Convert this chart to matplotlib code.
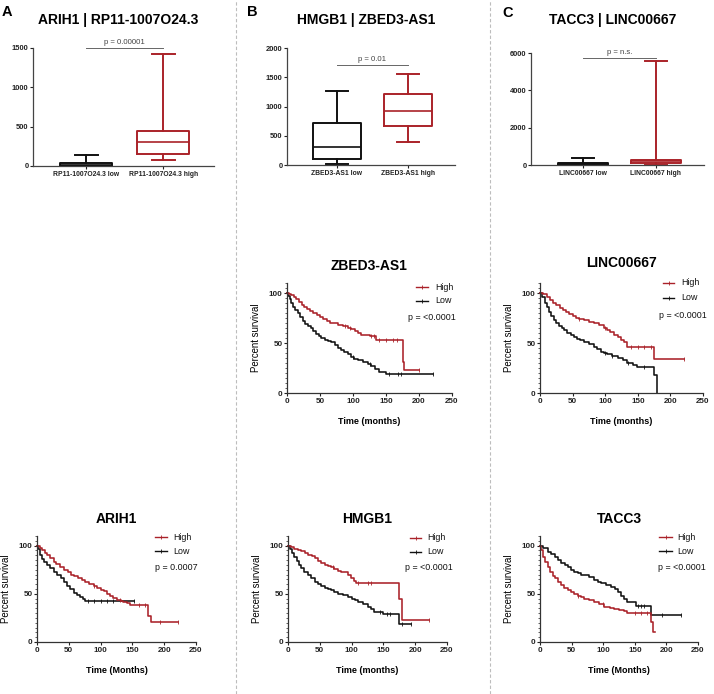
import matplotlib
matplotlib.use('Agg')
import matplotlib.pyplot as plt
from matplotlib.lines import Line2D
from matplotlib.ticker import MultipleLocator
import numpy as np

plt.rcParams['font.family'] = ['Liberation Sans', 'DejaVu Sans']

# ---------------- DATA ----------------
# Box plots: [whisker low, Q1, median, Q3, whisker high]
box_titles = ["ARIH1 | RP11-1007O24.3", "HMGB1 | ZBED3-AS1", "TACC3 | LINC00667"]
box_cats_a = ["RP11-1007O24.3 low", "RP11-1007O24.3 high"]
box_cats_b = ["ZBED3-AS1 low", "ZBED3-AS1 high"]
box_cats_c = ["LINC00667 low", "LINC00667 high"]
a_low = [0, 5, 15, 40, 144]
a_high = [72, 149, 305, 449, 1420]
b_low = [12, 98, 314, 725, 1273]
b_high = [389, 674, 920, 1222, 1554]
c_low = [0, 20, 60, 124, 392]
c_high = [10, 90, 200, 270, 5550]
box_pvals = ["p = 0.00001", "p = 0.01", "p = n.s."]
box_ymax = [1500, 2000, 6000]
box_ystep = [500, 500, 2000]
box_bracket_y = [1500, 1714, 5748]

# Kaplan-Meier curves (time in months, percent survival)
km_titles = ["ZBED3-AS1", "LINC00667", "ARIH1", "HMGB1", "TACC3"]
km_pvals = ["p = <0.0001", "p = <0.0001", "p = 0.0007", "p = <0.0001", "p = <0.0001"]
km_xlabels = ["Time (months)", "Time (months)", "Time (Months)", "Time (months)", "Time (Months)"]

zb_high_t = [0, 3, 6, 10, 14, 18, 22, 26, 30, 35, 40, 45, 50, 55, 60, 65, 70, 77, 85, 92, 97, 103, 107, 112, 125, 135, 175, 178, 200]
zb_high_s = [100, 99, 98, 96, 94, 91, 88.5, 86.5, 84, 82, 80, 78, 76.5, 74, 72, 70.5, 70, 68, 67, 65.5, 64, 62, 60, 58, 57, 53, 31, 23, 23]
zb_low_t = [0, 2, 4, 6, 9, 12, 16, 20, 24, 28, 32, 36, 40, 44, 48, 52, 57, 62, 67, 72, 77, 82, 87, 92, 97, 102, 107, 115, 122, 128, 133, 140, 150, 221]
zb_low_s = [100, 97, 94, 90, 86, 83, 80, 76, 72, 69, 67, 65, 62, 59, 57, 55, 53, 52, 51, 48, 45, 43, 41, 39, 36, 34, 33, 31, 29.5, 27, 24, 21, 19, 19]

li_high_t = [0, 5, 10, 15, 20, 25, 30, 35, 40, 45, 50, 55, 60, 68, 75, 83, 90, 98, 103, 108, 114, 119, 124, 129, 134, 175, 221]
li_high_s = [100, 99, 96, 93, 90, 88, 85, 83, 81, 79, 77, 75, 74, 73, 71.5, 70, 68, 65, 63, 61, 58, 56, 53, 51, 46, 34, 34]
li_low_t = [0, 3, 7, 10, 14, 17, 21, 25, 29, 33, 37, 42, 47, 52, 57, 62, 68, 75, 83, 88, 93, 98, 103, 110, 119, 127, 134, 142, 149, 175, 179]
li_low_s = [100, 96, 90, 86, 81, 77, 73, 70, 67, 65, 63, 60, 58, 56, 54, 53, 51, 49, 46, 44, 41, 40, 39, 37, 35, 33, 30, 28, 26, 18, 0]

ar_high_t = [0, 4, 8, 12, 16, 20, 26, 30, 36, 42, 48, 54, 58, 64, 70, 76, 82, 89, 95, 100, 105, 110, 115, 120, 126, 132, 136, 141, 146, 175, 180, 222]
ar_high_s = [100, 98, 95, 92, 90, 87, 83.5, 81, 78, 75, 72.5, 70, 68, 66, 64, 62, 60, 58, 56, 54, 52.5, 50, 48, 46, 44, 43, 42, 40, 38.6, 27, 20.7, 20.7]
ar_low_t = [0, 2, 5, 8, 11, 16, 20, 26, 31, 37, 42, 47, 52, 58, 63, 68, 72, 76, 152]
ar_low_s = [100, 96, 90, 86, 83, 80, 77, 73, 70, 66, 62, 58, 55, 51, 49, 47, 45, 43, 43]

hm_high_t = [0, 5, 10, 16, 21, 26, 32, 37, 42, 47, 52, 58, 63, 68, 73, 78, 84, 89, 94, 99, 103, 107, 175, 179, 221]
hm_high_s = [100, 99, 97, 95.5, 94, 92, 90, 89, 87, 84, 81.6, 80, 79, 77.4, 76, 74, 73, 73, 70, 66, 63, 60.8, 45, 22.6, 22.6]
hm_low_t = [0, 3, 6, 10, 14, 18, 21, 25, 31, 36, 42, 47, 52, 58, 63, 68, 73, 78, 86, 94, 100, 105, 110, 118, 126, 131, 136, 150, 175, 194]
hm_low_s = [100, 96, 92, 88.5, 84, 80, 76.4, 73, 69.4, 66, 62.5, 60, 58, 56, 55, 53.8, 52, 50.3, 49, 47, 45, 43.5, 41.7, 39, 36.5, 34, 31, 29.5, 19, 19]

ta_high_t = [0, 2, 4, 8, 12, 16, 20, 23, 28, 33, 38, 44, 49, 54, 60, 65, 70, 78, 86, 94, 102, 110, 117, 125, 133, 138, 175, 179, 182]
ta_high_s = [100, 95, 88.5, 83, 78, 73, 69, 66, 62, 59, 56, 53.8, 51.5, 49.6, 48, 46.5, 45, 43.5, 41.7, 39, 36.5, 35.5, 34.7, 33.5, 32, 30, 20.8, 10.4, 10.4]
ta_low_t = [0, 5, 12, 18, 23, 28, 34, 39, 44, 49, 54, 60, 65, 70, 78, 86, 91, 96, 104, 112, 118, 123, 128, 133, 138, 152, 175, 223]
ta_low_s = [100, 98, 93.75, 91, 88, 85, 82, 80, 77.4, 75, 73, 71.5, 70, 69.4, 67, 64, 62, 60.8, 59, 57.3, 55, 52, 48, 45, 41.7, 37, 27.8, 27.8]

# censored observation times
zb_high_c = [88, 95, 128, 132, 140, 150, 160, 166, 200]
zb_low_c = [100, 125, 155, 168, 172, 221]
li_high_c = [60, 100, 140, 150, 160, 170, 221]
li_low_c = [100, 110, 135, 160]
ar_high_c = [90, 130, 160, 170, 193, 222]
ar_low_c = [80, 90, 100, 110, 120, 152]
hm_high_c = [70, 110, 125, 130, 221]
hm_low_c = [145, 155, 160, 180, 194]
ta_high_c = [60, 100, 150, 160, 170]
ta_low_c = [155, 160, 165, 193, 223]

# ---------------- STYLE / LAYOUT ----------------
RED = '#AA2229'
BLK = '#111111'
W, H = 714, 694
fig = plt.figure(figsize=(W / 100, H / 100), dpi=100)


def px_axes(l, t, r, b):
    return fig.add_axes([l / W, 1 - b / H, (r - l) / W, (b - t) / H])


def ftext(x, y, s, **kw):
    fig.text(x / W, 1 - y / H, s, **kw)


def fline(x1, x2, y, **kw):
    fig.add_artist(Line2D([x1 / W, x2 / W], [1 - y / H, 1 - y / H], transform=fig.transFigure, **kw))


# dashed separators
for xs in (236, 490):
    fig.add_artist(Line2D([xs / W, xs / W], [0, 1], transform=fig.transFigure,
                          color='#bdbdbd', lw=0.8, ls=(0, (3, 2))))

# panel letters
ftext(7, 12, "A", fontsize=10.5, fontweight='bold', ha='center', va='center')
ftext(252, 12, "B", fontsize=10.5, fontweight='bold', ha='center', va='center')
ftext(508, 13, "C", fontsize=10.5, fontweight='bold', ha='center', va='center')

# ---------- box plots ----------
box_layout = [  # l, t, r, b, xlim, title x
    (33, 48, 214, 166, (-0.69, 1.66), 118),
    (287, 48, 455, 165, (-0.70, 1.66), 366),
    (531, 53, 704, 165, (-0.71, 1.66), 613),
]
box_data = [(a_low, a_high, box_cats_a), (b_low, b_high, box_cats_b), (c_low, c_high, box_cats_c)]

for i, ((lo, hi, cats), (l, t, r, b, xl, tx)) in enumerate(zip(box_data, box_layout)):
    ax = px_axes(l, t, r, b)
    for pos, vals, col in ((0, lo, BLK), (1, hi, RED)):
        st = dict(whislo=vals[0], q1=vals[1], med=vals[2], q3=vals[3], whishi=vals[4], fliers=[])
        pr = dict(color=col, lw=1.4)
        ax.bxp([st], positions=[pos], widths=0.68, capwidths=0.3, showfliers=False,
               boxprops=pr, medianprops=dict(color=col, lw=1.2), whiskerprops=pr, capprops=pr)
    ax.set_xlim(*xl)
    ax.set_ylim(0, box_ymax[i])
    ax.yaxis.set_major_locator(MultipleLocator(box_ystep[i]))
    ax.set_xticks([0, 1])
    ax.set_xticklabels(cats, fontsize=4.9, fontweight='bold')
    for lab in ax.get_yticklabels():
        lab.set_fontweight('bold')
    ax.tick_params(axis='y', labelsize=5.4, length=2.5, width=0.8, pad=0.8, colors='#222222')
    ax.tick_params(axis='x', length=2, width=0.8, pad=1.5, colors='#222222')
    for sp in ('top', 'right'):
        ax.spines[sp].set_visible(False)
    for sp in ('left', 'bottom'):
        ax.spines[sp].set_linewidth(0.9)
        ax.spines[sp].set_color('#444444')
    yb = box_bracket_y[i]
    ax.plot([0, 1], [yb, yb], color='#666666', lw=0.7, clip_on=False)
    ax.annotate(box_pvals[i], xy=(0.5, yb), xytext=(0, 1.2), textcoords='offset points',
                ha='center', va='bottom', fontsize=5.6, color='#444444', annotation_clip=False)
    ftext(tx, 20, box_titles[i], fontsize=10, fontweight='bold', ha='center', va='center')

# ---------- KM curves ----------
km_curves = [
    (zb_high_t, zb_high_s, zb_high_c, zb_low_t, zb_low_s, zb_low_c),
    (li_high_t, li_high_s, li_high_c, li_low_t, li_low_s, li_low_c),
    (ar_high_t, ar_high_s, ar_high_c, ar_low_t, ar_low_s, ar_low_c),
    (hm_high_t, hm_high_s, hm_high_c, hm_low_t, hm_low_s, hm_low_c),
    (ta_high_t, ta_high_s, ta_high_c, ta_low_t, ta_low_s, ta_low_c),
]
# l, t(=110), r(=250), b(=0), title y, legend line x1, x2, text x, high y, low y, p x, p y
km_layout = [
    (287, 283, 452, 393, 266, 416, 428, 435, 287, 301, 408, 317),
    (540, 283, 703, 393, 263, 663, 674, 681, 283, 298, 659, 316),
    (37, 536, 196, 642, 519, 155, 167, 173, 537, 551, 155, 568),
    (288, 536, 447, 642, 519, 410, 421, 427, 538, 552, 405, 568),
    (540, 536, 698, 642, 519, 659, 672, 677, 537, 551, 658, 568),
]


def step_val(ts, ss, t):
    idx = np.searchsorted(np.asarray(ts), t, side='right') - 1
    return np.asarray(ss)[idx]


for i, (cur, lay) in enumerate(zip(km_curves, km_layout)):
    l, t, r, b, ty, lx1, lx2, tx, hy, ly, px_, py = lay
    ax = px_axes(l, t, r, b)
    ht, hs, hc, lt, ls_, lc = cur
    ax.plot(lt, ls_, drawstyle='steps-post', color=BLK, lw=1.15, clip_on=False)
    ax.plot(ht, hs, drawstyle='steps-post', color=RED, lw=1.15, clip_on=False)
    ax.plot(lc, [step_val(lt, ls_, c) for c in lc], ls='none', marker='|', ms=2.5, mew=0.6, color=BLK, clip_on=False)
    ax.plot(hc, [step_val(ht, hs, c) for c in hc], ls='none', marker='|', ms=2.5, mew=0.6, color=RED, clip_on=False)
    ax.set_xlim(0, 250)
    ax.set_ylim(0, 110)
    ax.set_xticks([0, 50, 100, 150, 200, 250])
    ax.set_yticks([0, 50, 100])
    ax.yaxis.set_minor_locator(MultipleLocator(5))
    for lab in ax.get_xticklabels() + ax.get_yticklabels():
        lab.set_fontweight('bold')
    ax.tick_params(axis='both', which='major', labelsize=5.8, length=2.5, width=0.8, pad=0.8, colors='#222222')
    ax.tick_params(axis='y', which='minor', length=1.3, width=0.5, colors='#222222')
    for sp in ('top', 'right'):
        ax.spines[sp].set_visible(False)
    for sp in ('left', 'bottom'):
        ax.spines[sp].set_linewidth(0.9)
        ax.spines[sp].set_color('#333333')
    ax.set_ylabel("Percent survival", fontsize=6.9)
    ax.yaxis.set_label_coords(-26 / (r - l), 0.5)
    ax.set_xlabel(km_xlabels[i], fontsize=6.5, fontweight='bold')
    ax.xaxis.set_label_coords(0.5, -24 / (b - t))
    ftext((l + r) / 2, ty, km_titles[i], fontsize=10, fontweight='bold', ha='center', va='center')
    # legend
    for yy, col, lab in ((hy, RED, "High"), (ly, BLK, "Low")):
        fline(lx1, lx2, yy, color=col, lw=1.0)
        fig.add_artist(Line2D([(lx1 + lx2) / 2 / W], [1 - yy / H], transform=fig.transFigure,
                              marker='|', ms=2.5, mew=0.6, color=col, ls='none'))
        ftext(tx, yy, lab, fontsize=6.4, ha='left', va='center', color='#111111')
    ftext(px_, py, km_pvals[i], fontsize=6.4, ha='left', va='center', color='#111111')

fig.savefig('out.png', dpi=100)
